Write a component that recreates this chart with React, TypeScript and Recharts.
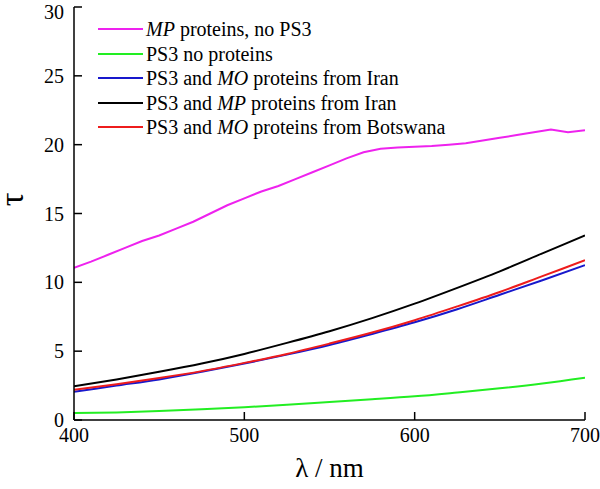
import React from 'react';
import { LineChart, Line, XAxis, YAxis, Label } from 'recharts';

const xTicks = [400, 500, 600, 700];
const yTicks = [0, 5, 10, 15, 20, 25, 30];

// MP proteins, no PS3 (10 nm step)
const mpNoPs3X = [400, 410, 420, 430, 440, 450, 460, 470, 480, 490, 500, 510, 520, 530, 540, 550, 560, 570, 580, 590, 600, 610, 620, 630, 640, 650, 660, 670, 680, 690, 700];
const mpNoPs3Y = [11.05, 11.5, 12.0, 12.5, 13.0, 13.4, 13.9, 14.4, 15.0, 15.6, 16.1, 16.6, 17.0, 17.5, 18.0, 18.5, 19.0, 19.45, 19.7, 19.8, 19.85, 19.9, 20.0, 20.1, 20.3, 20.5, 20.7, 20.9, 21.1, 20.9, 21.05];

// Smooth curves (25 nm step)
const waveX = [400, 425, 450, 475, 500, 525, 550, 575, 600, 625, 650, 675, 700];
const ps3NoProteins = [0.5, 0.55, 0.65, 0.78, 0.93, 1.1, 1.3, 1.5, 1.72, 2.0, 2.3, 2.65, 3.07];
const ps3MoIran = [2.05, 2.5, 2.95, 3.5, 4.1, 4.75, 5.45, 6.25, 7.1, 8.05, 9.1, 10.15, 11.25];
const ps3MpIran = [2.45, 2.95, 3.5, 4.1, 4.8, 5.6, 6.45, 7.4, 8.45, 9.6, 10.8, 12.1, 13.4];
const ps3MoBotswana = [2.2, 2.6, 3.05, 3.55, 4.15, 4.8, 5.55, 6.35, 7.25, 8.25, 9.3, 10.45, 11.6];

const toData = (xs: number[], ys: number[]) => xs.map((x, i) => ({ x, y: ys[i] }));

type Part = { t: string; i?: boolean };
const series: { key: string; color: string; data: { x: number; y: number }[]; label: Part[]; smooth: boolean }[] = [
  { key: 'mp', color: '#ee22ee', data: toData(mpNoPs3X, mpNoPs3Y), label: [{ t: 'MP', i: true }, { t: ' proteins, no PS3' }], smooth: false },
  { key: 'ps3', color: '#22ee22', data: toData(waveX, ps3NoProteins), label: [{ t: 'PS3 no proteins' }], smooth: true },
  { key: 'moIran', color: '#1818cc', data: toData(waveX, ps3MoIran), label: [{ t: 'PS3 and ' }, { t: 'MO', i: true }, { t: ' proteins from Iran' }], smooth: true },
  { key: 'mpIran', color: '#000000', data: toData(waveX, ps3MpIran), label: [{ t: 'PS3 and ' }, { t: 'MP', i: true }, { t: ' proteins from Iran' }], smooth: true },
  { key: 'moBots', color: '#ee1c1c', data: toData(waveX, ps3MoBotswana), label: [{ t: 'PS3 and ' }, { t: 'MO', i: true }, { t: ' proteins from Botswana' }], smooth: true },
];

const FONT = '"Liberation Serif", "Times New Roman", serif';

const LegendBox = () => (
  <div style={{ position: 'absolute', left: 98, top: 17, fontFamily: FONT, fontSize: 20, color: '#000', lineHeight: '24.5px', pointerEvents: 'none' }}>
    {series.map((s) => (
      <div key={s.key} style={{ display: 'flex', alignItems: 'center', height: 24.5, whiteSpace: 'nowrap' }}>
        <span style={{ display: 'inline-block', width: 45, height: 2, background: s.color, marginRight: 3 }} />
        <span>
          {s.label.map((p, j) => (
            <span key={j} style={{ fontStyle: p.i ? 'italic' : 'normal', whiteSpace: 'pre' }}>{p.t}</span>
          ))}
        </span>
      </div>
    ))}
  </div>
);

export default function App() {
  return (
    <div style={{ position: 'absolute', left: 0, top: 0, width: 600, height: 489, background: '#fff' }}>
      <LineChart width={600} height={489} margin={{ top: 7, right: 15, left: 0, bottom: 0 }}>
        <XAxis
          dataKey="x"
          type="number"
          domain={[400, 700]}
          ticks={xTicks}
          allowDataOverflow
          height={69}
          stroke="#000"
          axisLine={{ stroke: '#000', strokeWidth: 1.5 }}
          tickLine={{ stroke: '#000', strokeWidth: 1.5 }}
          tickSize={-8}
          tickMargin={16}
          tick={{ fill: '#000', fontSize: 20, fontFamily: FONT }}
        >
          <Label
            content={(props: any) => {
              const vb = props.viewBox || { x: 74, y: 420, width: 511 };
              return (
                <text x={vb.x + vb.width / 2} y={vb.y + 57} textAnchor="middle" fontSize={27} fontFamily={FONT} fill="#000">
                  λ / nm
                </text>
              );
            }}
          />
        </XAxis>
        <XAxis xAxisId="top" orientation="top" type="number" domain={[400, 700]} height={0} tick={false} tickLine={false} axisLine={{ stroke: '#000', strokeWidth: 1.5 }} />
        <YAxis
          type="number"
          domain={[0, 30]}
          ticks={yTicks}
          width={74}
          allowDataOverflow
          axisLine={{ stroke: '#000', strokeWidth: 1.5 }}
          tickLine={{ stroke: '#000', strokeWidth: 1.5 }}
          tickSize={-8}
          tickMargin={18}
          tick={{ fill: '#000', fontSize: 20, fontFamily: FONT }}
        >
          <Label
            content={(props: any) => {
              const vb = props.viewBox || { x: 0, y: 7, height: 413 };
              const cx = 11;
              const cy = vb.y + vb.height / 2 - 14;
              return (
                <text x={cx} y={cy} textAnchor="middle" dominantBaseline="central" fontSize={34} fontFamily={FONT} fill="#000" transform={`rotate(-90 ${cx} ${cy})`}>
                  τ
                </text>
              );
            }}
          />
        </YAxis>
        <YAxis yAxisId="right" orientation="right" type="number" domain={[0, 30]} width={0} tick={false} tickLine={false} axisLine={{ stroke: '#000', strokeWidth: 1.5 }} />
        {series.map((s) => (
          <Line
            key={s.key}
            data={s.data}
            dataKey="y"
            name={s.key}
            type={s.smooth ? 'monotone' : 'linear'}
            stroke={s.color}
            strokeWidth={2}
            dot={false}
            activeDot={false}
            isAnimationActive={false}
          />
        ))}
      </LineChart>
      <LegendBox />
    </div>
  );
}
